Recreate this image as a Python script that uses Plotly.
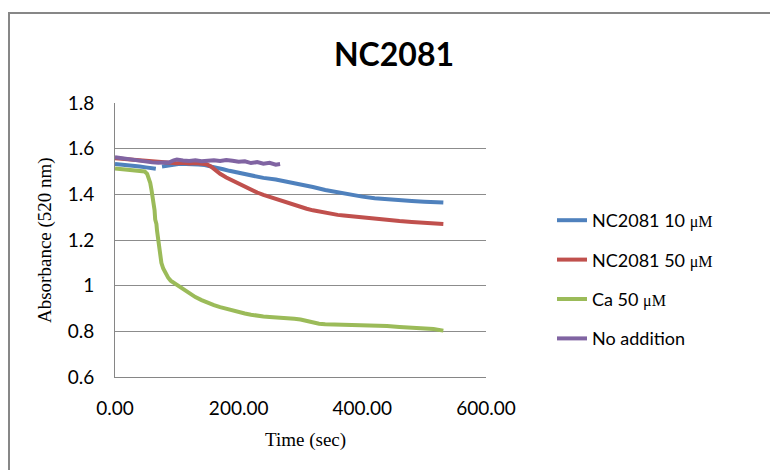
import plotly.graph_objects as go

# Absorbance at 520 nm over time for each treatment
t_nc10 = [0, 10, 20, 30, 40, 50, 60, 66, 70, 76, 85, 95, 105, 115, 125, 135, 145, 155, 165, 175,
          185, 195, 200, 220, 240, 260, 280, 300, 320, 340, 360, 380, 400, 420, 440, 460, 480,
          500, 520, 531]
a_nc10 = [1.533, 1.531, 1.528, 1.526, 1.522, 1.518, 1.514, 1.512, None, 1.522, 1.527, 1.532,
          1.534, 1.533, 1.533, 1.531, 1.528, 1.523, 1.516, 1.510, 1.503, 1.497, 1.495, 1.482,
          1.472, 1.465, 1.455, 1.445, 1.432, 1.419, 1.408, 1.398, 1.390, 1.383, 1.378, 1.374,
          1.371, 1.368, 1.366, 1.364]

t_nc50 = [0, 10, 20, 30, 40, 50, 60, 70, 80, 90, 100, 110, 120, 130, 140, 148, 155, 162, 170,
          180, 190, 200, 210, 220, 230, 240, 250, 260, 270, 280, 290, 300, 310, 320, 330, 340,
          350, 360, 370, 380, 390, 400, 420, 440, 460, 480, 500, 520, 531]
a_nc50 = [1.558, 1.556, 1.553, 1.550, 1.548, 1.546, 1.544, 1.541, 1.539, 1.537, 1.536, 1.538,
          1.535, 1.537, 1.534, 1.532, 1.522, 1.506, 1.490, 1.474, 1.460, 1.447, 1.433, 1.420,
          1.408, 1.398, 1.389, 1.380, 1.372, 1.362, 1.352, 1.344, 1.337, 1.330, 1.324, 1.319,
          1.314, 1.310, 1.307, 1.304, 1.302, 1.299, 1.294, 1.289, 1.283, 1.279, 1.275, 1.272,
          1.270]

t_ca = [0, 10, 20, 30, 40, 48, 52, 55, 57, 59, 61, 62, 64, 65, 67, 68, 70, 72, 75, 78, 82, 86,
        90, 100, 110, 120, 130, 140, 150, 160, 170, 180, 190, 200, 210, 220, 230, 240, 250, 260,
        270, 280, 290, 300, 310, 320, 330, 340, 360, 380, 400, 420, 440, 460, 480, 500, 515, 531]
a_ca = [1.513, 1.511, 1.509, 1.507, 1.504, 1.500, 1.490, 1.470, 1.450, 1.420, 1.390, 1.370,
        1.330, 1.290, 1.270, 1.240, 1.190, 1.150, 1.100, 1.075, 1.050, 1.035, 1.022, 1.003,
        0.983, 0.965, 0.950, 0.937, 0.925, 0.915, 0.906, 0.898, 0.890, 0.884, 0.878, 0.873,
        0.868, 0.865, 0.863, 0.862, 0.861, 0.857, 0.855, 0.852, 0.845, 0.838, 0.833, 0.831,
        0.830, 0.830, 0.829, 0.826, 0.823, 0.819, 0.816, 0.814, 0.810, 0.803]

t_none = [0, 10, 20, 30, 40, 50, 60, 70, 80, 88, 95, 100, 110, 120, 130, 140, 150, 160, 170,
          180, 190, 200, 210, 220, 230, 240, 250, 260, 267]
a_none = [1.562, 1.558, 1.553, 1.549, 1.546, 1.543, 1.540, 1.538, 1.537, 1.540, 1.549, 1.552,
          1.548, 1.546, 1.549, 1.545, 1.547, 1.549, 1.546, 1.550, 1.547, 1.543, 1.545, 1.537,
          1.541, 1.534, 1.538, 1.530, 1.533]

MU = "<span style='font-family:Liberation Serif;font-size:16px'>μM</span>"
series = [
    ("NC2081 10 " + MU, t_nc10, a_nc10, "#4F81BD"),
    ("NC2081 50 " + MU, t_nc50, a_nc50, "#C0504D"),
    ("Ca 50 " + MU, t_ca, a_ca, "#9BBB59"),
    ("No addition", t_none, a_none, "#8064A2"),
]

x_ticks = [0, 200, 400, 600]
y_ticks = [0.6, 0.8, 1.0, 1.2, 1.4, 1.6, 1.8]
y_labels = ["0.6", "0.8", "1", "1.2", "1.4", "1.6", "1.8"]

fig = go.Figure()
for i, (name, t, a, c) in enumerate(series):
    fig.add_trace(go.Scatter(
        x=t, y=a, name=name, mode="lines", legendgroup=f"g{i}",
        line=dict(color=c, width=4), connectgaps=False,
    ))

W, H = 770, 470
L, R, T, B = 115, 284, 103, 93
pw, ph = W - L - R, H - T - B

def px(xp):
    return (xp - L) / pw

def py(yp):
    return (H - B - yp) / ph

fig.update_layout(
    width=W, height=H,
    margin=dict(l=L, r=R, t=T, b=B),
    paper_bgcolor="white", plot_bgcolor="white",
    font=dict(family="Lato", size=19, color="#000000"),
    title=dict(text="<b>NC2081</b>", x=394 / W, xref="container", xanchor="center",
               y=1 - 55 / H, yref="container", yanchor="middle",
               font=dict(family="Lato", size=32, color="#000000")),
    xaxis=dict(range=[0, 600], tickvals=x_ticks, ticktext=[f"{v:.2f}" for v in x_ticks],
               showgrid=False, zeroline=False, showline=True, linecolor="#868686",
               linewidth=1, ticks="", ticklabelstandoff=14),
    yaxis=dict(range=[0.6, 1.8], tickvals=y_ticks, ticktext=y_labels,
               showgrid=True, gridcolor="#8c8c8c", gridwidth=1, zeroline=False,
               showline=True, linecolor="#868686", linewidth=1, ticks="",
               ticklabelstandoff=16),
    legend=dict(x=px(552), y=py(202), xanchor="left", yanchor="top",
                tracegroupgap=13, font=dict(family="Lato", size=18, color="#000000"),
                bgcolor="rgba(0,0,0,0)"),
    showlegend=True,
    shapes=[dict(type="rect", xref="paper", yref="paper",
                 x0=px(9), x1=px(780), y0=py(480), y1=py(13),
                 line=dict(color="#878787", width=2), fillcolor="rgba(0,0,0,0)",
                 layer="below")],
    annotations=[
        dict(text="Time (sec)", xref="paper", yref="paper", x=px(305), y=py(440),
             xanchor="center", yanchor="middle", showarrow=False,
             font=dict(family="Liberation Serif", size=19, color="#000000")),
        dict(text="Absorbance (520 nm)", xref="paper", yref="paper", x=px(45), y=py(240),
             xanchor="center", yanchor="middle", showarrow=False, textangle=-90,
             font=dict(family="Liberation Serif", size=19, color="#000000")),
    ],
)

fig.write_html("out.html")
